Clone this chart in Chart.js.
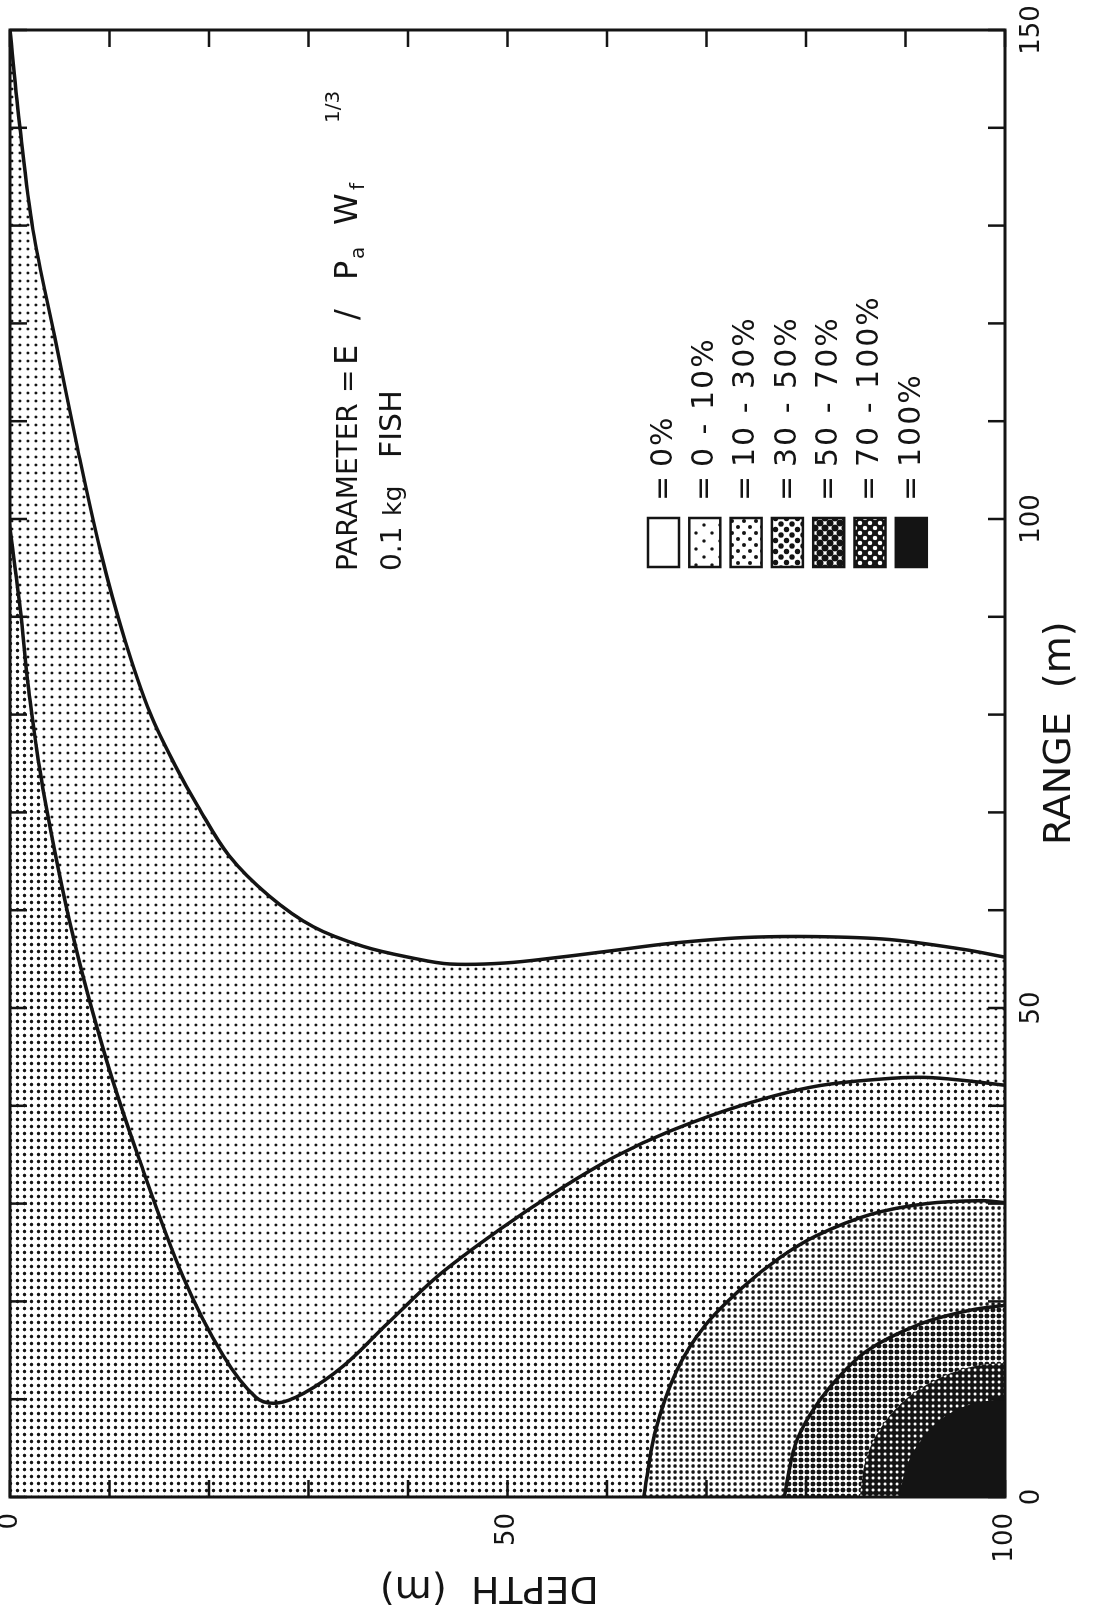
<!DOCTYPE html>
<html>
<head>
<meta charset="utf-8">
<title>Depth / range contours</title>
<script src="https://cdn.jsdelivr.net/npm/chart.js@4.4.1/dist/chart.umd.min.js"></script>
<style>
  html, body { margin: 0; padding: 0; background: #fff; overflow: hidden; }
  /* the figure is laid out landscape and turned a quarter turn onto the page */
  #page {
    position: absolute; left: 0; top: 1613px;
    width: 1613px; height: 1097px;
    transform-origin: 0 0; transform: rotate(-90deg);
  }
</style>
</head>
<body>
<div id="page"><canvas id="chart" width="1613" height="1097"></canvas></div>
<script>
// axis labels
const rangeTicks = [0, 50, 100, 150];
const depthTicks = [0, 50, 100];
const levelLabels = ['0%', '0 - 10%', '10 - 30%', '30 - 50%', '50 - 70%', '70 - 100%', '100%'];

// contour lines, [depth m, range m]
const line0 = [[0, 150], [1.0, 140.0], [2.3, 129.6], [4.5, 118.6], [6.8, 107.2], [9.1, 96.7],
  [11.5, 87.8], [14.1, 80.1], [16.6, 74.8], [18.9, 70.6], [22.0, 65.6], [26.0, 61.5],
  [30.5, 58.3], [35.5, 56.3], [40.5, 55.1], [44.2, 54.5], [49.7, 54.6], [55.3, 55.2],
  [60.8, 55.9], [66.3, 56.6], [73.7, 57.2], [81.0, 57.3], [88.4, 57.0], [95.8, 56.0], [100, 55.2]];
const line10 = [[0, 99.0], [1.0, 91.0], [2.0, 81.5], [3.3, 72.5], [6.3, 57.5], [9.6, 45.0],
  [13.0, 34.5], [17.4, 22.5], [21.4, 14.5], [24.7, 10.2], [26.8, 9.6], [29.5, 10.6],
  [33.5, 13.4], [38.0, 17.8], [43.0, 22.6], [49.0, 27.2], [55.3, 31.5], [60.8, 34.8],
  [66.3, 37.4], [73.7, 40.1], [81.0, 42.0], [88.4, 42.8], [92.1, 42.9], [95.8, 42.6], [100, 42.1]];
const line30 = [[63.7, 0], [64.8, 6.5], [67.0, 12.9], [69.9, 17.6], [73.7, 21.5], [77.4, 24.5],
  [81.0, 26.7], [86.5, 28.9], [92.1, 30.0], [97.6, 30.3], [100, 30.1]];
const line50 = [[77.8, 0], [78.9, 5.3], [80.4, 8.4], [82.8, 11.7], [86.2, 15.0], [91.5, 17.7],
  [96.5, 19.1], [100, 19.6]];
const line70 = [[85.4, 0], [86.0, 3.8], [87.4, 6.9], [89.9, 9.9], [93.5, 12.2], [97.0, 13.4], [100, 13.7]];
const line100 = [[89.4, 0], [90.0, 2.8], [91.2, 5.3], [93.5, 7.9], [96.3, 9.4], [100, 10.1]];

const INK = '#141414';
const PAPER = '#ffffff';
const FONT = 'DejaVu Sans';
const TICK = 17;

const canvas = document.getElementById('chart');
const ctx = canvas.getContext('2d');

// dot screens for the shaded levels
function dots(size, radius, ink, paper, stagger) {
  const tile = document.createElement('canvas');
  tile.width = tile.height = size;
  const g = tile.getContext('2d');
  g.fillStyle = paper;
  g.fillRect(0, 0, size, size);
  g.fillStyle = ink;
  const spots = stagger
    ? [[0, 0], [size, 0], [0, size], [size, size], [size / 2, size / 2]]
    : [[size / 2, size / 2]];
  spots.forEach(([x, y]) => {
    g.beginPath();
    g.arc(x, y, radius, 0, Math.PI * 2);
    g.fill();
  });
  return ctx.createPattern(tile, 'repeat');
}

const fills = [
  PAPER,
  dots(8, 1.45, INK, PAPER),
  dots(7, 1.75, INK, PAPER),
  dots(6, 1.85, INK, PAPER),
  dots(6, 2.4, INK, PAPER),
  dots(6, 1.55, PAPER, INK),
  INK
];
const legendFills = [
  PAPER,
  dots(16, 1.7, INK, PAPER, true),
  dots(12, 2.0, INK, PAPER, true),
  dots(11, 2.7, INK, PAPER, true),
  dots(10, 3.4, INK, PAPER, true),
  dots(10, 2.2, PAPER, INK, true),
  INK
];

// closes a contour line into an area reaching the deep, near corner
function region(line) {
  const pts = line.map(([d, r]) => ({ x: r, y: d }));
  const a = pts[0], b = pts[1];
  const z = pts[pts.length - 1], w = pts[pts.length - 2];
  const head = { x: 2 * a.x - b.x, y: 2 * a.y - b.y };
  const tail = { x: 2 * z.x - w.x, y: 2 * z.y - w.y };
  const out = [head, ...pts, tail, { x: -30, y: 125 }];
  if (head.y < 0) out.push({ x: -30, y: -25 }, { x: head.x, y: -25 });
  return out;
}

const lines = [line0, line10, line30, line50, line70, line100];
const strokes = [3.5, 3.5, 3.5, 3.5, 0, 0];

const datasets = lines.map((line, i) => ({
  label: levelLabels[i + 1],
  data: region(line),
  showLine: true,
  fill: 'shape',
  backgroundColor: fills[i + 1],
  borderColor: strokes[i] ? INK : 'rgba(0,0,0,0)',
  borderWidth: strokes[i] || 1,
  pointRadius: 0,
  tension: 0.35,
  order: lines.length - i
}));

function drawRun(c, pieces, y) {
  pieces.forEach(p => {
    c.font = p.size + 'px "' + FONT + '"';
    c.fillText(p.t, p.x, y + (p.dy || 0));
  });
}

const decor = {
  id: 'decor',
  afterDraw(chart) {
    const { ctx: c, chartArea: a, scales: { x, y } } = chart;
    c.save();
    c.strokeStyle = INK;
    c.fillStyle = INK;

    // frame and inward ticks on all four sides
    c.lineWidth = 3;
    c.strokeRect(a.left, a.top, a.right - a.left, a.bottom - a.top);
    c.lineWidth = 2.5;
    c.beginPath();
    x.ticks.forEach(t => {
      const px = x.getPixelForValue(t.value);
      c.moveTo(px, a.bottom); c.lineTo(px, a.bottom - TICK);
      c.moveTo(px, a.top); c.lineTo(px, a.top + TICK);
    });
    y.ticks.forEach(t => {
      const py = y.getPixelForValue(t.value);
      c.moveTo(a.left, py); c.lineTo(a.left + TICK, py);
      c.moveTo(a.right, py); c.lineTo(a.right - TICK, py);
    });
    c.stroke();

    // parameter note
    c.textBaseline = 'alphabetic';
    c.textAlign = 'left';
    drawRun(c, [
      { t: 'PARAMETER', size: 28, x: 1042 },
      { t: '=', size: 28, x: 1220 },
      { t: 'E', size: 32, x: 1248 },
      { t: '/', size: 32, x: 1293 },
      { t: 'P', size: 32, x: 1333 },
      { t: 'a', size: 20, x: 1354, dy: 7 },
      { t: 'W', size: 32, x: 1388 },
      { t: 'f', size: 20, x: 1423, dy: 7 },
      { t: '1/3', size: 20, x: 1490, dy: -18 }
    ], 357);
    drawRun(c, [
      { t: '0.1', size: 28, x: 1042 },
      { t: 'kg', size: 25, x: 1097 },
      { t: 'FISH', size: 30, x: 1155 }
    ], 401);

    // legend
    c.lineWidth = 2.5;
    c.textBaseline = 'middle';
    c.font = '30px "' + FONT + '"';
    levelLabels.forEach((lab, i) => {
      const top = 648 + i * 41.3;
      c.fillStyle = legendFills[i];
      c.fillRect(1046, top, 49, 31);
      c.strokeRect(1046, top, 49, 31);
      c.fillStyle = INK;
      c.letterSpacing = '0px';
      c.fillText('=', 1112, top + 16);
      c.letterSpacing = '2px';
      c.fillText(lab, 1146, top + 16);
    });
    c.letterSpacing = '0px';
    c.restore();
  }
};

new Chart(ctx, {
  type: 'scatter',
  data: { datasets },
  plugins: [decor],
  options: {
    responsive: false,
    animation: false,
    events: [],
    layout: { padding: { left: 0, right: 30, top: 10, bottom: 0 }, autoPadding: false },
    elements: { line: { capBezierPoints: false } },
    plugins: {
      legend: { display: false },
      tooltip: { enabled: false }
    },
    scales: {
      x: {
        type: 'linear',
        min: 0,
        max: 150,
        grid: { display: false, drawTicks: false },
        border: { display: false },
        ticks: {
          stepSize: 10,
          autoSkip: false,
          maxRotation: 0,
          padding: 12,
          color: INK,
          font: { family: FONT, size: 26 },
          callback: v => rangeTicks.includes(v) ? String(v) : ''
        },
        title: {
          display: true,
          text: '     RANGE  (m)',
          color: INK,
          font: { family: FONT, size: 38 },
          padding: { top: 0, bottom: 14 }
        },
        afterFit: s => {
          s.height = 92;
          s.paddingLeft = 0;
          s.paddingRight = 0;
        }
      },
      y: {
        type: 'linear',
        min: 0,
        max: 100,
        reverse: true,
        grid: { display: false, drawTicks: false },
        border: { display: false },
        ticks: {
          stepSize: 10,
          autoSkip: false,
          padding: 16,
          color: INK,
          font: { family: FONT, size: 26 },
          callback: v => depthTicks.includes(v) ? String(v) : ''
        },
        title: {
          display: true,
          text: '   DEPTH  (m)',
          color: INK,
          font: { family: FONT, size: 38 },
          padding: { top: 3, bottom: 0 }
        },
        afterFit: s => {
          s.width = 116;
          s.paddingTop = 0;
          s.paddingBottom = 0;
        }
      }
    }
  }
});
</script>
</body>
</html>
